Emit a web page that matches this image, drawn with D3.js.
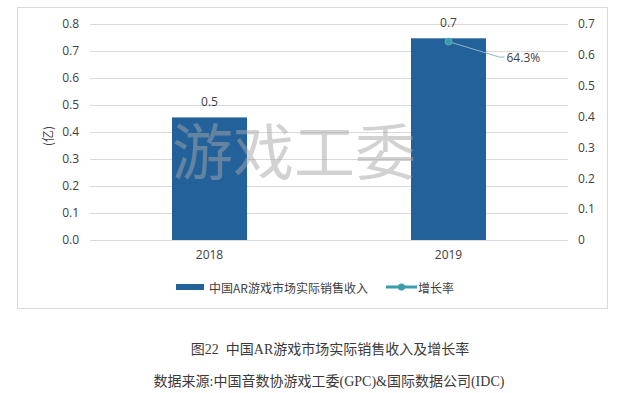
<!DOCTYPE html>
<html><head><meta charset="utf-8">
<script src="https://cdn.jsdelivr.net/npm/d3@7"></script>
<style>
html,body{margin:0;padding:0;background:#fff;}
svg{display:block;}
</style></head>
<body>
<svg id="c" width="625" height="393"></svg>
<script>
const categories = ["2018", "2019"];
const revenue = [0.454, 0.747];
const revenueLabels = ["0.5", "0.7"];
const growth = [null, 0.643];
const growthLabels = ["", "64.3%"];
const leftTicks = [0, 0.1, 0.2, 0.3, 0.4, 0.5, 0.6, 0.7, 0.8];
const rightTicks = [0, 0.1, 0.2, 0.3, 0.4, 0.5, 0.6, 0.7];
const seriesNames = ["中国AR游戏市场实际销售收入", "增长率"];
const yTitle = "(亿)";
const watermark = "游戏工委";
const caption = "图22  中国AR游戏市场实际销售收入及增长率";
const source = "数据来源:中国音数协游戏工委(GPC)&国际数据公司(IDC)";

const svg = d3.select("#c");
const sans = "'Open Sans','Noto Sans CJK SC',sans-serif";
const cjk = "'Noto Sans CJK SC','Open Sans',sans-serif";
const serif = "'Liberation Serif','DejaVu Serif','Noto Sans CJK SC',serif";
const barColor = "#23619b";
const lineColor = "#3b9cae";
const textColor = "#404040";

const plot = {left: 90, right: 568, top: 24, bottom: 240};

// frame
svg.append("rect").attr("x", 17.5).attr("y", 7.5).attr("width", 590).attr("height", 301)
  .attr("fill", "#fff").attr("stroke", "#d9d9d9").attr("stroke-width", 1);

const x = d3.scaleBand().domain(categories).range([plot.left, plot.right])
  .paddingInner(0.686).paddingOuter(0.343);
const yL = d3.scaleLinear().domain([0, 0.8]).range([plot.bottom, plot.top]);
const yR = d3.scaleLinear().domain([0, 0.7]).range([plot.bottom, plot.top]);

// gridlines
svg.append("g").selectAll("line").data(leftTicks).join("line")
  .attr("x1", plot.left).attr("x2", plot.right)
  .attr("y1", d => Math.round(yL(d)) + 0.5).attr("y2", d => Math.round(yL(d)) + 0.5)
  .attr("stroke", "#d9d9d9").attr("stroke-width", 1);

// left axis
const axL = svg.append("g").attr("transform", `translate(${plot.left},0)`)
  .call(d3.axisLeft(yL).tickValues(leftTicks).tickFormat(d => d.toFixed(1)).tickSize(0).tickPadding(11));
axL.select(".domain").remove();
axL.selectAll("text").attr("font-family", sans).attr("font-size", 12).attr("fill", textColor);

// right axis
const axR = svg.append("g").attr("transform", `translate(${plot.right},0)`)
  .call(d3.axisRight(yR).tickValues(rightTicks).tickFormat(d => d === 0 ? "0" : d.toFixed(1)).tickSize(0).tickPadding(10));
axR.select(".domain").remove();
axR.selectAll("text").attr("font-family", sans).attr("font-size", 12).attr("fill", textColor);

// x axis
const axX = svg.append("g").attr("transform", `translate(0,${plot.bottom})`)
  .call(d3.axisBottom(x).tickSize(0).tickPadding(10));
axX.select(".domain").remove();
axX.selectAll("text").attr("font-family", sans).attr("font-size", 12).attr("fill", textColor);

// y title
svg.append("text").attr("transform", `translate(47,${(plot.top + plot.bottom) / 2 + 4}) rotate(-90)`)
  .attr("text-anchor", "middle").attr("dominant-baseline", "central")
  .attr("font-family", cjk).attr("font-size", 12).attr("fill", textColor).text(yTitle);

// bars
svg.append("g").selectAll("rect").data(revenue).join("rect")
  .attr("x", (d, i) => x(categories[i])).attr("width", x.bandwidth())
  .attr("y", d => yL(d)).attr("height", d => yL(0) - yL(d))
  .attr("fill", barColor);

// bar labels
svg.append("g").selectAll("text").data(revenue).join("text")
  .attr("x", (d, i) => x(categories[i]) + x.bandwidth() / 2)
  .attr("y", d => yL(d) - 16).attr("text-anchor", "middle").attr("dominant-baseline", "central")
  .attr("font-family", sans).attr("font-size", 12).attr("fill", textColor)
  .text((d, i) => revenueLabels[i]);

// watermark
svg.append("text").attr("x", 294).attr("y", 148).attr("text-anchor", "middle")
  .attr("dominant-baseline", "central")
  .attr("font-family", cjk).attr("font-size", 61).attr("fill", "#a5a5a5").attr("fill-opacity", 0.5)
  .text(watermark);

// growth line points
const gpts = growth.map((v, i) => v == null ? null : {x: x(categories[i]) + x.bandwidth() / 2, y: yR(v), label: growthLabels[i]}).filter(d => d);
svg.append("path").datum(growth.map((v, i) => [x(categories[i]) + x.bandwidth() / 2, v]))
  .attr("d", d3.line().defined(d => d[1] != null).x(d => d[0]).y(d => yR(d[1])))
  .attr("fill", "none").attr("stroke", lineColor).attr("stroke-width", 2.5);
gpts.forEach(p => {
  svg.append("polyline")
    .attr("points", `${p.x},${p.y} ${p.x + 51},${p.y + 15.5} ${p.x + 56},${p.y + 15.5}`)
    .attr("fill", "none").attr("stroke", "#8db6c2").attr("stroke-width", 1);
  svg.append("circle").attr("cx", p.x).attr("cy", p.y).attr("r", 3.5).attr("fill", lineColor)
    .attr("stroke", "#5fb3c3").attr("stroke-width", 0.8);
  svg.append("text").attr("x", p.x + 58).attr("y", p.y + 16).attr("dominant-baseline", "central")
    .attr("font-family", sans).attr("font-size", 12).attr("fill", textColor).text(p.label);
});

// legend
const lg = svg.append("g").attr("transform", "translate(0,287)");
lg.append("rect").attr("x", 176).attr("y", -3).attr("width", 28).attr("height", 6).attr("fill", barColor);
lg.append("text").attr("x", 209).attr("y", 0).attr("dominant-baseline", "central")
  .attr("font-family", cjk).attr("font-size", 12).attr("fill", textColor).text(seriesNames[0]);
lg.append("line").attr("x1", 386).attr("x2", 417).attr("y1", 0).attr("y2", 0)
  .attr("stroke", lineColor).attr("stroke-width", 3);
lg.append("circle").attr("cx", 401.5).attr("cy", 0).attr("r", 3.5).attr("fill", lineColor);
lg.append("text").attr("x", 418).attr("y", 0).attr("dominant-baseline", "central")
  .attr("font-family", cjk).attr("font-size", 12).attr("fill", textColor).text(seriesNames[1]);

// captions
svg.append("text").attr("x", 330).attr("y", 349).attr("text-anchor", "middle").attr("dominant-baseline", "central")
  .attr("font-family", serif).attr("font-size", 14).attr("fill", "#3a3a3a")
  .style("white-space", "pre").text(caption);
svg.append("text").attr("x", 329).attr("y", 381.5).attr("text-anchor", "middle").attr("dominant-baseline", "central")
  .attr("font-family", serif).attr("font-size", 14).attr("fill", "#3a3a3a").text(source);
</script>
</body></html>
